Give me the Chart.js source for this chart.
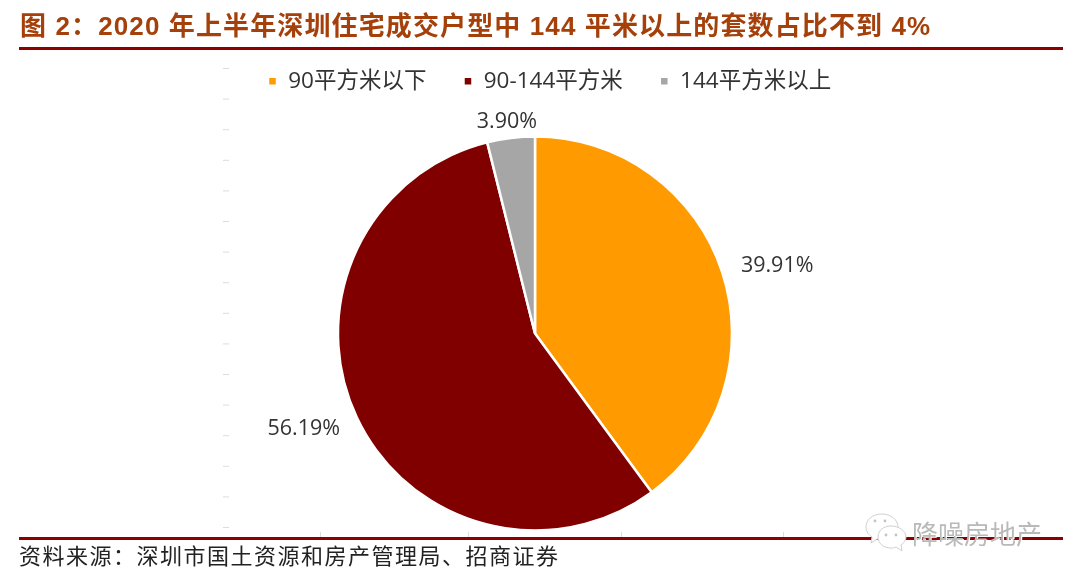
<!DOCTYPE html>
<html lang="zh">
<head>
<meta charset="utf-8">
<style>
html,body{margin:0;padding:0;background:#fff;width:1080px;height:580px;overflow:hidden}
#wrap{position:relative;width:1080px;height:580px}
canvas{position:absolute;left:0;top:0}
.t{position:absolute;white-space:nowrap}
#title{left:20px;top:8px;font:700 26px/36px "Liberation Sans","Noto Sans CJK SC",sans-serif;color:#A5400A;letter-spacing:1.12px}
#src{left:19px;top:539px;font:400 22px/30px "Noto Sans CJK SC",sans-serif;color:#222;letter-spacing:1.5px}
.rule{position:absolute;left:19px;width:1044px;height:3px;background:#8E0000}
#mark{left:912px;top:514px;font:400 26px/38px "Noto Sans CJK SC",sans-serif;color:#b9b9b9;text-shadow:1px 1px 0 #fff}
#icon{position:absolute;left:862px;top:512px}
</style>
</head>
<body>
<div id="wrap">
  <canvas id="c" width="1080" height="580"></canvas>
  <div class="rule" style="top:47px"></div>
  <div class="rule" style="top:537px"></div>
  <div class="t" id="title">图 2：2020 年上半年深圳住宅成交户型中 144 平米以上的套数占比不到 4%</div>
  <div class="t" id="src">资料来源：深圳市国土资源和房产管理局、招商证券</div>
  <svg id="icon" width="46" height="44" viewBox="0 0 46 44">
    <path d="M20 2C10 2 4 8 4 15c0 5 3 8 6 10l-1 6 6-4c2 0 4 1 6 0 8-1 15-6 15-12C36 8 29 2 20 2z" fill="#fff" stroke="#cfcfcf" stroke-width="1"/>
    <path d="M29 14c-8 0-13 5-13 11s5 11 13 11c2 0 3 0 5-1l6 4-1-6c3-2 5-5 5-8 0-6-7-11-15-11z" fill="#fff" stroke="#cfcfcf" stroke-width="1"/>
    <circle cx="13" cy="9" r="1.4" fill="#c4c4c4"/><circle cx="23" cy="9" r="1.4" fill="#c4c4c4"/>
    <circle cx="24" cy="23" r="1.4" fill="#c4c4c4"/><circle cx="34" cy="23" r="1.4" fill="#c4c4c4"/>
  </svg>
  <div class="t" id="mark">降噪房地产</div>
</div>
<script src="https://cdn.jsdelivr.net/npm/chart.js@4/dist/chart.umd.js"></script>
<script>
const categories = ['90平方米以下', '90-144平方米', '144平方米以上'];
const shares = [39.91, 56.19, 3.90];
const sliceColors = ['#FF9B00', '#800000', '#A6A6A6'];

// label nudges [dx, dy] relative to the slice's outer-edge mid point
const labelNudges = [[55, -6], [-53, 12], [-4, -16]];
// faint leftover axis ticks in the source image
const leftTicks = [68,98.6,129.2,159.8,190.4,221,251.6,282.2,312.8,343.4,374,404.6,435.2,465.8,496.4,527];
const bottomTicks = [320,468,621,783];

const legendShift = {
  id: 'legendShift',
  afterLayout(chart) {
    chart.legend.left += 61;
    chart.legend.right += 61;
  }
};
const pieLabels = {
  id: 'pieLabels',
  afterDatasetsDraw(chart) {
    const ctx = chart.ctx, arcs = chart.getDatasetMeta(0).data;
    ctx.save();
    ctx.font = '400 21.5px "Open Sans","Noto Sans",sans-serif';
    ctx.fillStyle = '#333';
    ctx.textAlign = 'center';
    ctx.textBaseline = 'middle';
    arcs.forEach((a, i) => {
      const mid = (a.startAngle + a.endAngle) / 2;
      const x = a.x + Math.cos(mid) * a.outerRadius + labelNudges[i][0];
      const y = a.y + Math.sin(mid) * a.outerRadius + labelNudges[i][1];
      ctx.fillText(shares[i].toFixed(2) + '%', x, y);
    });
    ctx.restore();
  }
};
const faintTicks = {
  id: 'faintTicks',
  beforeDatasetsDraw(chart) {
    const ctx = chart.ctx;
    ctx.save();
    ctx.strokeStyle = '#dcdcdc';
    ctx.lineWidth = 1;
    ctx.beginPath();
    leftTicks.forEach(y => { ctx.moveTo(223, y + .5); ctx.lineTo(229, y + .5); });
    bottomTicks.forEach(x => { ctx.moveTo(x + .5, 532); ctx.lineTo(x + .5, 537); });
    ctx.stroke();
    ctx.restore();
  }
};

new Chart(document.getElementById('c'), {
  type: 'pie',
  data: {
    labels: categories,
    datasets: [{
      data: shares,
      backgroundColor: sliceColors,
      borderColor: '#ffffff',
      borderWidth: 2.5,
      radius: 197
    }]
  },
  plugins: [legendShift, pieLabels, faintTicks],
  options: {
    responsive: false,
    animation: false,
    layout: { padding: { left: 170, right: 180, top: 33, bottom: 15.5 } },
    plugins: {
      tooltip: { enabled: false },
      legend: {
        position: 'top',
        align: 'start',
        labels: {
          boxWidth: 9,
          boxHeight: 9,
          padding: 37,
          color: '#333',
          font: { family: '"Open Sans","Noto Sans CJK SC",sans-serif', size: 22.5 }
        }
      }
    }
  }
});
</script>
</body>
</html>
